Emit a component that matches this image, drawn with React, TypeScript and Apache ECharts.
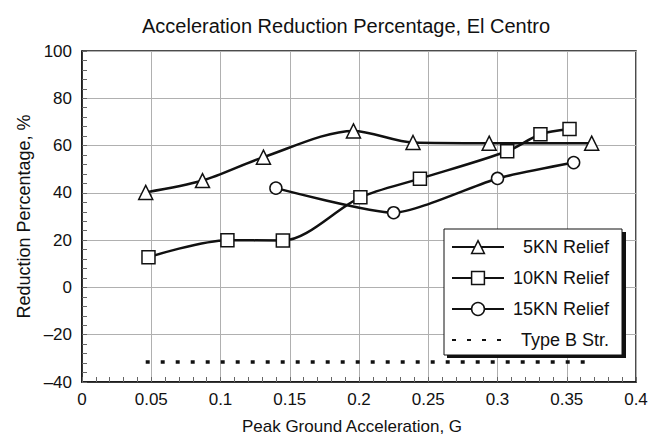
import React, { useEffect, useRef } from "react";
import * as echarts from "echarts";

const titleText = "Acceleration Reduction Percentage, El Centro";
const xAxisName = "Peak Ground Acceleration, G";
const yAxisName = "Reduction Percentage, %";

const seriesNames = ["5KN Relief", "10KN Relief", "15KN Relief", "Type B Str."];

const x5KN = [0.046, 0.087, 0.131, 0.196, 0.239, 0.294, 0.368];
const y5KN = [40.2, 45.2, 55.1, 66.2, 61.3, 61.0, 61.0];

const x10KN = [0.048, 0.105, 0.145, 0.201, 0.244, 0.307, 0.331, 0.352];
const y10KN = [12.8, 20.0, 19.8, 38.1, 46.0, 57.6, 64.8, 67.0];

const x15KN = [0.14, 0.225, 0.3, 0.355];
const y15KN = [42.0, 31.6, 46.1, 52.8];

const xTypeB = [0.046, 0.368];
const yTypeB = [-31.5, -31.5];

const zip = (xs: number[], ys: number[]) => xs.map((x, i) => [x, ys[i]]);

const FONT = "Liberation Sans, Arial, sans-serif";
const INK = "#111";

export default function App() {
  const ref = useRef<HTMLDivElement>(null);
  useEffect(() => {
    if (!ref.current) return;
    const chart = echarts.init(ref.current, undefined, { renderer: "svg" });
    const lineBase = { color: INK, width: 2.5 };
    const itemBase = { color: "#fff", borderColor: INK, borderWidth: 1.5 };
    const legendLeft = 444;
    const legendTop = 229;
    const legendW = 179;
    const legendH = 126;
    const tickStyle = { color: "#666", width: 1 };
    chart.setOption({
      animation: false,
      backgroundColor: "#fff",
      textStyle: { fontFamily: FONT },
      title: {
        text: titleText,
        left: 137,
        top: 11,
        textStyle: { fontFamily: FONT, fontSize: 20, fontWeight: "normal", color: INK },
      },
      grid: {
        left: 82,
        right: 25,
        top: 51,
        bottom: 62,
        show: true,
        borderColor: INK,
        borderWidth: 1.5,
        backgroundColor: "transparent",
      },
      graphic: [
        {
          type: "rect",
          left: legendLeft + 3,
          top: legendTop + 3,
          shape: { width: legendW, height: legendH },
          style: { fill: INK },
          z: 6,
        },
      ],
      legend: {
        orient: "vertical",
        left: legendLeft,
        top: legendTop,
        width: legendW,
        z: 7,
        padding: [9, 13, 6, 7],
        itemWidth: 52,
        itemHeight: 16,
        itemGap: 13,
        itemTextGap: 6,
        backgroundColor: "#fff",
        borderColor: INK,
        borderWidth: 1,
        data: [
          { name: seriesNames[0], itemStyle: { color: "#fff", borderColor: INK, borderWidth: 1.5 } },
          { name: seriesNames[1], itemStyle: { color: "#fff", borderColor: INK, borderWidth: 1.5 } },
          { name: seriesNames[2], itemStyle: { color: "#fff", borderColor: INK, borderWidth: 1.5 } },
          { name: seriesNames[3], itemStyle: { color: "transparent", borderWidth: 0, opacity: 0 } },
        ],
        formatter: "{a|{name}}",
        textStyle: {
          fontFamily: FONT,
          fontSize: 18,
          color: INK,
          rich: { a: { width: 100, align: "right", fontFamily: FONT, fontSize: 18, lineHeight: 16, color: INK } },
        },
      },
      xAxis: {
        type: "value",
        min: 0,
        max: 0.4,
        interval: 0.05,
        name: xAxisName,
        nameLocation: "middle",
        nameGap: 36,
        nameTextStyle: { fontFamily: FONT, fontSize: 17, color: INK, padding: [0, 14, 0, 0] },
        axisLine: { show: true, onZero: false, lineStyle: { color: INK, width: 1.5 } },
        axisTick: { show: true, inside: true, length: 5, lineStyle: tickStyle },
        minorTick: { show: true, splitNumber: 5, length: 5, lineStyle: tickStyle },
        splitLine: { show: true, lineStyle: { color: "#b0b0b0", width: 1 } },
        axisLabel: {
          margin: 9,
          fontFamily: FONT,
          fontSize: 17,
          color: INK,
          formatter: (v: number) => String(+v.toFixed(2)),
        },
      },
      yAxis: {
        type: "value",
        min: -40,
        max: 100,
        interval: 20,
        name: yAxisName,
        nameLocation: "middle",
        nameGap: 47,
        nameTextStyle: { fontFamily: FONT, fontSize: 18, color: INK },
        axisLine: { show: true, onZero: false, lineStyle: { color: INK, width: 1.5 } },
        axisTick: { show: true, inside: true, length: 5, lineStyle: tickStyle },
        minorTick: { show: true, splitNumber: 5, length: 5, lineStyle: tickStyle },
        splitLine: { show: true, lineStyle: { color: "#b0b0b0", width: 1 } },
        axisLabel: {
          margin: 10,
          fontFamily: FONT,
          fontSize: 17,
          color: INK,
          formatter: (v: number) => (v < 0 ? "\u2013" + Math.abs(v) : String(v)),
        },
      },
      series: [
        {
          name: seriesNames[0],
          type: "line",
          data: zip(x5KN, y5KN),
          smooth: 0.3,
          symbol: "triangle",
          symbolSize: 14,
          lineStyle: lineBase,
          itemStyle: itemBase,
          z: 3,
        },
        {
          name: seriesNames[1],
          type: "line",
          data: zip(x10KN, y10KN),
          smooth: 0.3,
          symbol: "rect",
          symbolSize: 13,
          lineStyle: lineBase,
          itemStyle: itemBase,
          z: 4,
        },
        {
          name: seriesNames[2],
          type: "line",
          data: zip(x15KN, y15KN),
          smooth: 0.2,
          symbol: "circle",
          symbolSize: 12,
          lineStyle: lineBase,
          itemStyle: itemBase,
          z: 3,
        },
        {
          name: seriesNames[3],
          type: "line",
          data: zip(xTypeB, yTypeB),
          symbol: "none",
          showSymbol: false,
          lineStyle: { color: INK, width: 3.5, type: [4, 11] },
          itemStyle: { color: INK },
          z: 2,
        },
      ],
    });
    return () => chart.dispose();
  }, []);
  return <div ref={ref} style={{ width: 661, height: 444, position: "absolute", left: 0, top: 0 }} />;
}
